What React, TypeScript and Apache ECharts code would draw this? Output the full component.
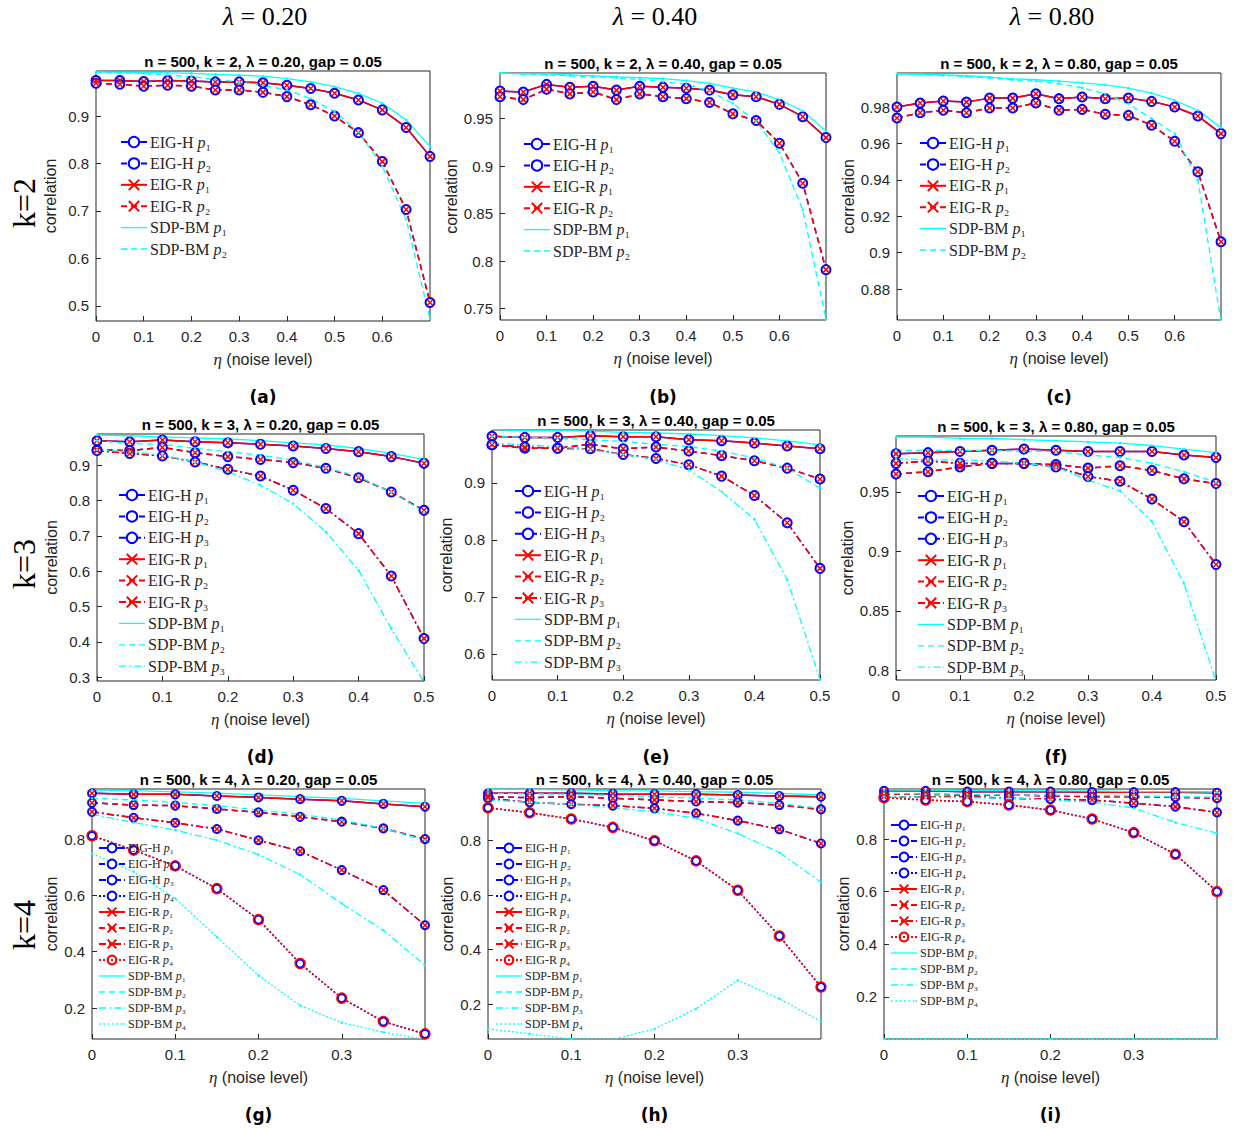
import React, { useEffect, useRef } from "react";
import * as echarts from "echarts";

// noise levels per row
const etaRow1 = [0, 0.05, 0.1, 0.15, 0.2, 0.25, 0.3, 0.35, 0.4, 0.45, 0.5, 0.55, 0.6, 0.65, 0.7];
const etaRow2 = [0, 0.05, 0.1, 0.15, 0.2, 0.25, 0.3, 0.35, 0.4, 0.45, 0.5];
const etaRow3 = [0, 0.05, 0.1, 0.15, 0.2, 0.25, 0.3, 0.35, 0.4];

// (a) k=2, lambda 0.20
const aEig1 = [0.975, 0.975, 0.973, 0.975, 0.974, 0.972, 0.972, 0.970, 0.965, 0.958, 0.948, 0.934, 0.913, 0.876, 0.815];
const aEig2 = [0.969, 0.967, 0.963, 0.965, 0.963, 0.955, 0.955, 0.950, 0.941, 0.924, 0.900, 0.865, 0.804, 0.703, 0.507];
const aSdp1 = [0.993, 0.992, 0.992, 0.991, 0.990, 0.988, 0.986, 0.984, 0.979, 0.972, 0.962, 0.948, 0.927, 0.892, 0.836];
const aSdp2 = [0.992, 0.991, 0.990, 0.986, 0.983, 0.977, 0.972, 0.965, 0.955, 0.937, 0.909, 0.867, 0.794, 0.682, 0.472];
// (b) k=2, lambda 0.40
const bEig1 = [0.979, 0.978, 0.986, 0.983, 0.984, 0.980, 0.984, 0.983, 0.982, 0.980, 0.975, 0.973, 0.965, 0.952, 0.930];
const bEig2 = [0.973, 0.970, 0.981, 0.976, 0.978, 0.970, 0.976, 0.973, 0.971, 0.967, 0.955, 0.948, 0.924, 0.882, 0.791];
const bSdp1 = [0.998, 0.997, 0.997, 0.996, 0.995, 0.994, 0.993, 0.992, 0.990, 0.987, 0.982, 0.978, 0.970, 0.958, 0.937];
const bSdp2 = [0.998, 0.997, 0.996, 0.995, 0.994, 0.993, 0.991, 0.989, 0.986, 0.979, 0.966, 0.947, 0.914, 0.854, 0.739];
// (c) k=2, lambda 0.80
const cEig1 = [0.980, 0.9822, 0.9833, 0.9827, 0.9849, 0.9849, 0.9873, 0.9846, 0.9855, 0.9846, 0.9849, 0.9831, 0.980, 0.9751, 0.9654];
const cEig2 = [0.974, 0.9769, 0.9782, 0.9769, 0.9795, 0.9795, 0.9822, 0.9782, 0.9787, 0.976, 0.9754, 0.970, 0.9612, 0.9444, 0.906];
const cSdp1 = [0.9982, 0.998, 0.9977, 0.9972, 0.9964, 0.9955, 0.995, 0.9942, 0.9933, 0.9922, 0.9904, 0.9877, 0.9836, 0.9782, 0.9687];
const cSdp2 = [0.9982, 0.9979, 0.9973, 0.9968, 0.996, 0.995, 0.9942, 0.9928, 0.9906, 0.9873, 0.9818, 0.9736, 0.9654, 0.9399, 0.8623];
// (d) k=3, lambda 0.20
const dEig1 = [0.969, 0.966, 0.971, 0.966, 0.963, 0.959, 0.954, 0.947, 0.938, 0.924, 0.905];
const dEig2 = [0.943, 0.941, 0.950, 0.935, 0.924, 0.916, 0.907, 0.891, 0.864, 0.824, 0.772];
const dEig3 = [0.941, 0.933, 0.926, 0.909, 0.888, 0.869, 0.829, 0.777, 0.706, 0.586, 0.409];
const dSdp1 = [0.985, 0.983, 0.980, 0.977, 0.974, 0.969, 0.963, 0.957, 0.947, 0.933, 0.916];
const dSdp2 = [0.969, 0.961, 0.959, 0.947, 0.938, 0.928, 0.914, 0.893, 0.867, 0.824, 0.768];
const dSdp3 = [0.943, 0.938, 0.928, 0.909, 0.881, 0.843, 0.791, 0.711, 0.602, 0.437, 0.286];
// (e) k=3, lambda 0.40
const eEig1 = [0.982, 0.980, 0.980, 0.983, 0.981, 0.981, 0.976, 0.974, 0.970, 0.965, 0.960];
const eEig2 = [0.967, 0.961, 0.961, 0.968, 0.960, 0.963, 0.956, 0.948, 0.939, 0.926, 0.907];
const eEig3 = [0.967, 0.963, 0.961, 0.960, 0.950, 0.943, 0.932, 0.912, 0.878, 0.830, 0.750];
const eSdp1 = [0.994, 0.992, 0.992, 0.991, 0.989, 0.988, 0.986, 0.983, 0.979, 0.974, 0.967];
const eSdp2 = [0.982, 0.980, 0.979, 0.976, 0.973, 0.968, 0.964, 0.956, 0.944, 0.926, 0.891];
const eSdp3 = [0.970, 0.967, 0.964, 0.958, 0.950, 0.941, 0.923, 0.885, 0.836, 0.730, 0.555];
// (f) k=3, lambda 0.80
const fEig1 = [0.982, 0.983, 0.984, 0.985, 0.986, 0.985, 0.984, 0.984, 0.984, 0.981, 0.979];
const fEig2 = [0.965, 0.967, 0.971, 0.974, 0.974, 0.973, 0.970, 0.972, 0.968, 0.961, 0.957];
const fEig3 = [0.974, 0.976, 0.974, 0.974, 0.974, 0.971, 0.963, 0.959, 0.944, 0.925, 0.889];
const fSdp1 = [0.996, 0.996, 0.995, 0.995, 0.994, 0.993, 0.992, 0.991, 0.989, 0.986, 0.983];
const fSdp2 = [0.985, 0.985, 0.985, 0.985, 0.984, 0.984, 0.981, 0.979, 0.974, 0.967, 0.958];
const fSdp3 = [0.978, 0.977, 0.977, 0.976, 0.974, 0.971, 0.960, 0.951, 0.925, 0.873, 0.791];
// (g) k=4, lambda 0.20
const gEig1 = [0.963, 0.959, 0.959, 0.953, 0.948, 0.942, 0.936, 0.925, 0.915];
const gEig2 = [0.929, 0.921, 0.919, 0.907, 0.895, 0.879, 0.862, 0.838, 0.800];
const gEig3 = [0.897, 0.876, 0.858, 0.836, 0.796, 0.757, 0.690, 0.619, 0.494];
const gEig4 = [0.812, 0.761, 0.705, 0.624, 0.514, 0.358, 0.235, 0.152, 0.108];
const gSdp1 = [0.974, 0.972, 0.968, 0.963, 0.957, 0.951, 0.945, 0.936, 0.927];
const gSdp2 = [0.945, 0.939, 0.930, 0.919, 0.903, 0.888, 0.868, 0.838, 0.796];
const gSdp3 = [0.888, 0.859, 0.832, 0.796, 0.745, 0.674, 0.571, 0.476, 0.352];
const gSdp4 = [0.749, 0.684, 0.589, 0.452, 0.316, 0.209, 0.148, 0.114, 0.088];
// (h) k=4, lambda 0.40
const hEig1 = [0.974, 0.974, 0.974, 0.972, 0.971, 0.971, 0.968, 0.964, 0.962];
const hEig2 = [0.962, 0.958, 0.962, 0.956, 0.950, 0.944, 0.940, 0.931, 0.915];
const hEig3 = [0.956, 0.941, 0.934, 0.929, 0.919, 0.901, 0.874, 0.842, 0.790];
const hEig4 = [0.921, 0.903, 0.880, 0.849, 0.800, 0.726, 0.618, 0.450, 0.263];
const hSdp1 = [0.990, 0.989, 0.987, 0.984, 0.983, 0.980, 0.978, 0.974, 0.968];
const hSdp2 = [0.974, 0.972, 0.971, 0.966, 0.962, 0.956, 0.950, 0.937, 0.919];
const hSdp3 = [0.950, 0.941, 0.934, 0.921, 0.907, 0.882, 0.827, 0.757, 0.647];
const hSdp4 = [0.109, 0.091, 0.072, 0.070, 0.109, 0.183, 0.287, 0.220, 0.136];
// (i) k=4, lambda 0.80
const iEig1 = [0.983, 0.983, 0.980, 0.980, 0.980, 0.978, 0.978, 0.978, 0.976];
const iEig2 = [0.970, 0.970, 0.967, 0.967, 0.964, 0.961, 0.961, 0.959, 0.955];
const iEig3 = [0.961, 0.961, 0.961, 0.955, 0.951, 0.948, 0.936, 0.923, 0.901];
const iEig4 = [0.957, 0.948, 0.942, 0.929, 0.910, 0.876, 0.824, 0.742, 0.600];
const iSdp1 = [0.986, 0.986, 0.984, 0.984, 0.983, 0.983, 0.980, 0.980, 0.978];
const iSdp2 = [0.974, 0.971, 0.970, 0.967, 0.967, 0.965, 0.964, 0.961, 0.959];
const iSdp3 = [0.961, 0.959, 0.957, 0.955, 0.948, 0.940, 0.917, 0.863, 0.822];
const iSdp4 = [0.04, 0.04, 0.04, 0.04, 0.04, 0.04, 0.04, 0.04, 0.04];

// tick labels
const xTicksRow1 = [0, 0.1, 0.2, 0.3, 0.4, 0.5, 0.6];
const xTicksRow2 = [0, 0.1, 0.2, 0.3, 0.4, 0.5];
const xTicksRow3 = [0, 0.1, 0.2, 0.3];
const yTicksA = [0.5, 0.6, 0.7, 0.8, 0.9];
const yTicksB = [0.75, 0.8, 0.85, 0.9, 0.95];
const yTicksC = [0.88, 0.9, 0.92, 0.94, 0.96, 0.98];
const yTicksD = [0.3, 0.4, 0.5, 0.6, 0.7, 0.8, 0.9];
const yTicksE = [0.6, 0.7, 0.8, 0.9];
const yTicksF = [0.8, 0.85, 0.9, 0.95];
const yTicksG = [0.2, 0.4, 0.6, 0.8];

const lambdas = ["0.20", "0.40", "0.80"];
const panelLetters = ["a", "b", "c", "d", "e", "f", "g", "h", "i"];

const BLUE = "#0000ff";
const RED = "#ff0000";
const CYAN = "#00ffff";
const INK = "#262626";
const dashes: any[] = ["solid", [6, 4], [7, 3, 2, 3], [2, 2]];
const crossSymbol = "path://M0,0L10,10M10,0L0,10";
// legend icons for the SDP-BM lines (thin bars: solid, dashed, dash-dot, dotted)
const sdpIcons = [
  "path://M0,0h60v3h-60z",
  "path://M0,0h14v3h-14zM23,0h14v3h-14zM46,0h14v3h-14z",
  "path://M0,0h16v3h-16zM24,0h4v3h-4zM36,0h16v3h-16zM58,0h2v3h-2z",
  "path://M0,0h4v3h-4zM10,0h4v3h-4zM20,0h4v3h-4zM30,0h4v3h-4zM40,0h4v3h-4zM50,0h4v3h-4zM56,0h4v3h-4z",
];

const panels = [
  { k: 2, x: etaRow1, xMax: 0.7, xTicks: xTicksRow1, yMin: 0.468, yMax: 0.995, yTicks: yTicksA, eig: [aEig1, aEig2], sdp: [aSdp1, aSdp2], box: [96, 71, 334, 250], leg: [120, 134] },
  { k: 2, x: etaRow1, xMax: 0.7, xTicks: xTicksRow1, yMin: 0.738, yMax: 0.998, yTicks: yTicksB, eig: [bEig1, bEig2], sdp: [bSdp1, bSdp2], box: [500, 73, 326, 247], leg: [523, 136] },
  { k: 2, x: etaRow1, xMax: 0.7, xTicks: xTicksRow1, yMin: 0.863, yMax: 0.9987, yTicks: yTicksC, eig: [cEig1, cEig2], sdp: [cSdp1, cSdp2], box: [897, 73, 324, 247], leg: [919, 135] },
  { k: 3, x: etaRow2, xMax: 0.5, xTicks: xTicksRow2, yMin: 0.289, yMax: 0.988, yTicks: yTicksD, eig: [dEig1, dEig2, dEig3], sdp: [dSdp1, dSdp2, dSdp3], box: [97, 434, 327, 247], leg: [118, 487] },
  { k: 3, x: etaRow2, xMax: 0.5, xTicks: xTicksRow2, yMin: 0.554, yMax: 0.993, yTicks: yTicksE, eig: [eEig1, eEig2, eEig3], sdp: [eSdp1, eSdp2, eSdp3], box: [492, 430, 328, 250], leg: [514, 483] },
  { k: 3, x: etaRow2, xMax: 0.5, xTicks: xTicksRow2, yMin: 0.792, yMax: 0.997, yTicks: yTicksF, eig: [fEig1, fEig2, fEig3], sdp: [fSdp1, fSdp2, fSdp3], box: [896, 436, 320, 244], leg: [917, 488] },
  { k: 4, x: etaRow3, xMax: 0.4, xTicks: xTicksRow3, yMin: 0.09, yMax: 0.978, yTicks: yTicksG, eig: [gEig1, gEig2, gEig3, gEig4], sdp: [gSdp1, gSdp2, gSdp3, gSdp4], box: [92, 789, 333, 250], leg: [98, 842] },
  { k: 4, x: etaRow3, xMax: 0.4, xTicks: xTicksRow3, yMin: 0.072, yMax: 0.99, yTicks: yTicksG, eig: [hEig1, hEig2, hEig3, hEig4], sdp: [hSdp1, hSdp2, hSdp3, hSdp4], box: [488, 789, 333, 250], leg: [495, 842] },
  { k: 4, x: etaRow3, xMax: 0.4, xTicks: xTicksRow3, yMin: 0.04, yMax: 0.99, yTicks: yTicksG, eig: [iEig1, iEig2, iEig3, iEig4], sdp: [iSdp1, iSdp2, iSdp3, iSdp4], box: [884, 789, 333, 250], leg: [890, 819] },
];

const subDigits = ["₀", "₁", "₂", "₃", "₄"];

const App: React.FC = () => {
  const chartRef = useRef<HTMLDivElement | null>(null);

  useEffect(() => {
    document.body.style.margin = "0";
    if (!chartRef.current) return;
    const chart = echarts.init(chartRef.current, undefined, { renderer: "svg" });

    const grid: any[] = [];
    const xAxis: any[] = [];
    const yAxis: any[] = [];
    const series: any[] = [];
    const legend: any[] = [];
    const graphic: any[] = [];

    panels.forEach((p, i) => {
      const [left, top, width, height] = p.box;
      const small = p.k === 4;
      grid.push({ left, top, width, height, show: true, borderColor: INK, borderWidth: 1, backgroundColor: "#fff" });
      xAxis.push({
        type: "value", gridIndex: i, min: 0, max: p.xMax,
        axisLine: { show: false },
        axisTick: { inside: true, length: 5, lineStyle: { color: INK }, customValues: p.xTicks },
        axisLabel: { color: INK, fontSize: 15, fontFamily: "Liberation Sans", margin: 8, customValues: p.xTicks },
        splitLine: { show: false },
        name: "{i|η} (noise level)", nameLocation: "middle", nameGap: 30,
        nameTextStyle: { color: INK, fontSize: 16, fontFamily: "Liberation Sans", rich: { i: { fontStyle: "italic", fontFamily: "Liberation Serif", fontSize: 17, color: INK } } },
      });
      yAxis.push({
        type: "value", gridIndex: i, min: p.yMin, max: p.yMax,
        axisLine: { show: false },
        axisTick: { inside: true, length: 5, lineStyle: { color: INK }, customValues: p.yTicks },
        axisLabel: { color: INK, fontSize: 15, fontFamily: "Liberation Sans", margin: 7, customValues: p.yTicks },
        splitLine: { show: false },
        name: "correlation", nameLocation: "middle", nameGap: p.k === 4 ? 33 : 38,
        nameTextStyle: { color: INK, fontSize: 16, fontFamily: "Liberation Sans" },
      });
      const names: any[] = [];
      const sym = small ? 8 : 9;
      for (let j = 0; j < p.k; j++) {
        const data = p.x.map((x, n) => [x, p.eig[j][n]]);
        const nm = `EIG-H p${j + 1}`;
        names.push(nm);
        series.push({
          type: "line", name: nm, xAxisIndex: i, yAxisIndex: i, data,
          symbol: "emptyCircle", symbolSize: sym, showAllSymbol: true,
          itemStyle: { color: BLUE, borderColor: BLUE, borderWidth: 1.3, borderType: "solid" },
          lineStyle: { color: BLUE, width: 1.5, type: dashes[j] },
        });
      }
      for (let j = 0; j < p.k; j++) {
        const data = p.x.map((x, n) => [x, p.eig[j][n]]);
        const nm = `EIG-R p${j + 1}`;
        names.push(nm);
        const circ = j === 3;
        series.push({
          type: "line", name: nm, xAxisIndex: i, yAxisIndex: i, data,
          symbol: circ ? "circle" : crossSymbol, symbolSize: circ ? 10 : 6, showAllSymbol: true,
          itemStyle: { color: circ ? "rgba(255,255,255,0)" : RED, borderColor: RED, borderWidth: 1.5, borderType: "solid" },
          lineStyle: { color: RED, width: 1.5, type: dashes[j] },
        });
      }
      for (let j = 0; j < p.k; j++) {
        const data = p.x.map((x, n) => [x, p.sdp[j][n]]);
        const nm = `SDP-BM p${j + 1}`;
        names.push({ name: nm, icon: sdpIcons[j] });
        series.push({
          type: "line", name: nm, xAxisIndex: i, yAxisIndex: i, data,
          symbol: "circle", symbolSize: 2.5,
          itemStyle: { color: CYAN },
          lineStyle: { color: CYAN, width: 1.3, type: dashes[j] },
        });
      }
      legend.push({
        data: names, left: p.leg[0], top: p.leg[1], orient: "vertical",
        itemGap: small ? 4 : 5.4, itemWidth: 26, itemHeight: small ? 11 : 13,
        selectedMode: false, padding: 0,
        formatter: (n: string) => n.replace(/ p(\d)$/, (_m, d) => ` {i|p}${subDigits[+d]}`),
        textStyle: {
          color: INK, fontFamily: "Liberation Serif", fontSize: small ? 12 : 16, padding: [0, 0, 0, -2],
          rich: { i: { fontStyle: "italic", fontFamily: "Liberation Serif", fontSize: small ? 12 : 16, color: INK } },
        },
      });
      const lam = lambdas[i % 3];
      graphic.push({
        type: "text", x: left + width / 2, y: top - 10,
        style: { text: `n = 500, k = ${p.k}, λ = ${lam}, gap = 0.05`, align: "center", verticalAlign: "middle", font: "bold 15px 'Liberation Sans'", fill: "#000" },
      });
      graphic.push({
        type: "text", x: left + width / 2, y: i < 3 ? 397 : i < 6 ? 757 : 1115,
        style: { text: `(${panelLetters[i]})`, align: "center", verticalAlign: "middle", font: "bold 17px 'DejaVu Sans'", fill: "#000" },
      });
    });

    [265, 655, 1052].forEach((cx, c) => {
      graphic.push({
        type: "text", x: cx, y: 16,
        style: {
          text: `{i|λ} = ${lambdas[c]}`, align: "center", verticalAlign: "middle",
          fill: "#000", font: "26px 'Liberation Serif'",
          rich: { i: { fontStyle: "italic", fontSize: 26, fontFamily: "Liberation Serif", fill: "#000" } },
        },
      });
    });
    [[2, 203], [3, 564], [4, 925]].forEach(([k, cy]) => {
      graphic.push({
        type: "text", x: 24, y: cy, rotation: Math.PI / 2,
        style: { text: `k=${k}`, align: "center", verticalAlign: "middle", font: "32px 'Liberation Serif'", fill: "#000" },
      });
    });

    chart.setOption({ animation: false, backgroundColor: "#fff", grid, xAxis, yAxis, series, legend, graphic });
    return () => chart.dispose();
  }, []);

  return <div ref={chartRef} style={{ width: 1237, height: 1129 }} />;
};

export default App;
